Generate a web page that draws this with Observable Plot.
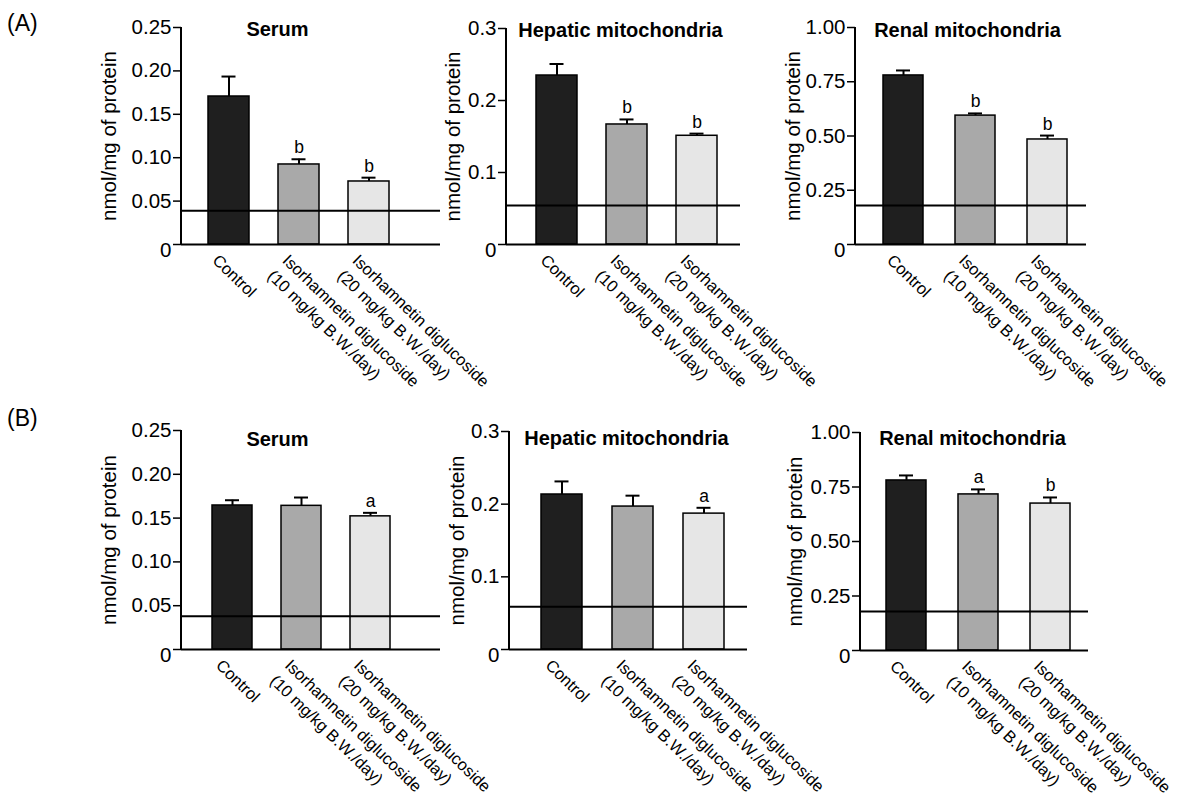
<!DOCTYPE html>
<html><head><meta charset="utf-8">
<script src="https://cdn.jsdelivr.net/npm/d3@7"></script>
<script src="https://cdn.jsdelivr.net/npm/@observablehq/plot@0.6"></script>
<style>
body{margin:0;background:#fff;}
#root{position:relative;width:1183px;height:796px;overflow:hidden;font-family:"Liberation Sans",Arial,Helvetica,sans-serif;color:#000;}
.panel{position:absolute;}
.tag{position:absolute;font-size:23px;line-height:26px;}
</style></head><body><div id="root"></div>
<script>
// ---------- data ----------
const groups = ["Control", "Isorhamnetin diglucoside\n(10 mg/kg B.W./day)", "Isorhamnetin diglucoside\n(20 mg/kg B.W./day)"];
const titles = ["Serum", "Hepatic mitochondria", "Renal mitochondria"];
const yLabel = "nmol/mg of protein";
const panelTags = ["(A)", "(B)"];
const barColors = ["#1f1f1f", "#a9a9a9", "#e6e6e6"];

// Row A
const aSerumMean = [0.1705, 0.0922, 0.0726];
const aSerumSem  = [0.023, 0.006, 0.0044];
const aSerumRef  = 0.039;
const aSerumSig  = ["", "b", "b"];
const aHepMean = [0.2347, 0.1667, 0.151];
const aHepSem  = [0.016, 0.007, 0.003];
const aHepRef  = 0.054;
const aHepSig  = ["", "b", "b"];
const aRenMean = [0.779, 0.594, 0.484];
const aRenSem  = [0.023, 0.010, 0.018];
const aRenRef  = 0.18;
const aRenSig  = ["", "b", "b"];
// Row B
const bSerumMean = [0.1644, 0.164, 0.152];
const bSerumSem  = [0.006, 0.0095, 0.004];
const bSerumRef  = 0.038;
const bSerumSig  = ["", "", "a"];
const bHepMean = [0.2133, 0.1967, 0.187];
const bHepSem  = [0.018, 0.015, 0.008];
const bHepRef  = 0.059;
const bHepSig  = ["", "", "a"];
const bRenMean = [0.78, 0.716, 0.674];
const bRenSem  = [0.023, 0.023, 0.028];
const bRenRef  = 0.179;
const bRenSig  = ["", "a", "b"];

// tick values
const serumTicks = [0.05, 0.10, 0.15, 0.20, 0.25];
const hepTicks = [0.1, 0.2, 0.3];
const renTicks = [0.25, 0.50, 0.75, 1.00];

// ---------- layout ----------
const layout = [
  {title: titles[0], mean: aSerumMean, sem: aSerumSem, ref: aSerumRef, sig: aSerumSig, ticks: serumTicks, dec: 2,
   L: 0, T: 0, W: 450, H: 400, axisX: 181, yTop: 27, y0: 244, right: 440, c1: 227.5, step: 70.5, bw: 41, labDx: -72, tDx: 96, tDy: -6},
  {title: titles[1], mean: aHepMean, sem: aHepSem, ref: aHepRef, sig: aHepSig, ticks: hepTicks, dec: 1,
   L: 400, T: 0, W: 350, H: 400, axisX: 506, yTop: 28, y0: 244, right: 740, c1: 556, step: 70, bw: 41, labDx: -53, tDx: 114, tDy: -6},
  {title: titles[2], mean: aRenMean, sem: aRenSem, ref: aRenRef, sig: aRenSig, ticks: renTicks, dec: 2,
   L: 780, T: 0, W: 400, H: 400, axisX: 855, yTop: 27, y0: 244, right: 1086, c1: 902, step: 72.5, bw: 40, labDx: -62, tDx: 112, tDy: -5},
  {title: titles[0], mean: bSerumMean, sem: bSerumSem, ref: bSerumRef, sig: bSerumSig, ticks: serumTicks, dec: 2,
   L: 0, T: 400, W: 450, H: 396, axisX: 181, yTop: 430, y0: 649, right: 440, c1: 231, step: 69.5, bw: 40, labDx: -72, tDx: 96, tDy: 1},
  {title: titles[1], mean: bHepMean, sem: bHepSem, ref: bHepRef, sig: bHepSig, ticks: hepTicks, dec: 1,
   L: 400, T: 400, W: 350, H: 396, axisX: 509, yTop: 431, y0: 649, right: 747, c1: 561, step: 71.5, bw: 41, labDx: -52, tDx: 117, tDy: -1},
  {title: titles[2], mean: bRenMean, sem: bRenSem, ref: bRenRef, sig: bRenSig, ticks: renTicks, dec: 2,
   L: 780, T: 400, W: 400, H: 396, axisX: 860, yTop: 432, y0: 650, right: 1088, c1: 905, step: 72.5, bw: 40, labDx: -65, tDx: 112, tDy: -2}
];

const root = document.getElementById("root");
const font = "'Liberation Sans', Arial, Helvetica, sans-serif";

function yAxisLine(index, scales, values, dims) {
  return d3.create("svg:line")
    .attr("x1", dims.marginLeft).attr("x2", dims.marginLeft)
    .attr("y1", dims.marginTop).attr("y2", dims.height - dims.marginBottom)
    .attr("stroke", "black").attr("stroke-width", 2).node();
}

for (const P of layout) {
  const data = groups.map((g, i) => ({g, m: P.mean[i], e: P.mean[i] + P.sem[i], s: P.sig[i]}));
  const pad = 1 - P.bw / P.step;
  const r0 = (P.c1 - P.L) - P.bw / 2 - P.step * pad;
  const r1 = r0 + P.step * (3 + pad);
  const yMax = P.ticks[P.ticks.length - 1];
  const chart = Plot.plot({
    width: P.W, height: P.H,
    marginLeft: P.axisX - P.L,
    marginRight: P.W - (P.right - P.L),
    marginTop: P.yTop - P.T,
    marginBottom: P.H - (P.y0 - P.T),
    style: {background: "transparent", overflow: "visible", fontFamily: font, color: "black"},
    x: {type: "band", domain: groups, range: [r0, r1], padding: pad, axis: null},
    y: {domain: [0, yMax], axis: null},
    color: {domain: groups, range: barColors},
    marks: [
      Plot.barY(data, {x: "g", y: "m", fill: "g", stroke: "black", strokeWidth: 1.5}),
      Plot.ruleX(data, {x: "g", y1: "m", y2: "e", stroke: "black", strokeWidth: 2}),
      Plot.tickY(data, {x: "g", y: "e", stroke: "black", strokeWidth: 2, insetLeft: (P.bw - 14) / 2, insetRight: (P.bw - 14) / 2}),
      Plot.ruleY([P.ref], {stroke: "black", strokeWidth: 2}),
      Plot.ruleY([0], {stroke: "black", strokeWidth: 2}),
      yAxisLine,
      Plot.axisY([0, ...P.ticks], {tickSize: 8, tickPadding: 2, fontSize: 20.5, strokeWidth: 1.5, tickFormat: d => d === 0 ? "" : d.toFixed(P.dec), label: null}),
      Plot.text([0], {y: d => d, text: () => "0", frameAnchor: "left", textAnchor: "end", dx: -10, dy: 6, fontSize: 20.5}),
      Plot.text([yLabel], {text: d => d, frameAnchor: "left", rotate: -90, dx: P.labDx, fontSize: 20.5, textAnchor: "middle"}),
      Plot.text([P.title], {text: d => d, frameAnchor: "top-left", dx: P.tDx, dy: P.tDy, fontSize: 20, fontWeight: "bold", textAnchor: "middle"}),
      Plot.text(data, {x: "g", y: "e", text: "s", dy: -6, lineAnchor: "bottom", fontSize: 17.5}),
      Plot.text(data, {x: "g", text: "g", frameAnchor: "bottom", rotate: 44, textAnchor: "start", lineAnchor: "top", dx: -7, dy: 6, fontSize: 16.5, lineHeight: 1.3})
    ]
  });
  chart.classList.add("panel");
  chart.style.left = P.L + "px";
  chart.style.top = P.T + "px";
  root.appendChild(chart);
}

const tagPos = [{x: 7, y: 10}, {x: 7, y: 405}];
panelTags.forEach((t, i) => {
  const d = document.createElement("div");
  d.className = "tag";
  d.textContent = t;
  d.style.left = tagPos[i].x + "px";
  d.style.top = tagPos[i].y + "px";
  root.appendChild(d);
});
</script>
</body></html>
